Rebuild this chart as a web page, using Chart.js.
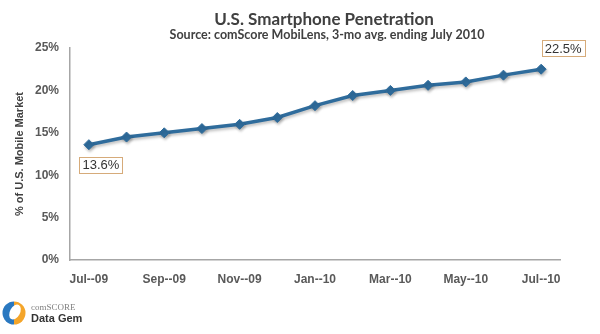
<!DOCTYPE html>
<html>
<head>
<meta charset="utf-8">
<script src="https://cdn.jsdelivr.net/npm/chart.js@4.4.0/dist/chart.umd.min.js"></script>
<style>
  html, body { margin: 0; padding: 0; background: #fff; }
  #wrap { width: 600px; height: 334px; }
</style>
</head>
<body>
<div id="wrap"><canvas id="penetration-chart" width="600" height="334"></canvas></div>
<script>
const months = ['Jul--09', 'Aug--09', 'Sep--09', 'Oct--09', 'Nov--09', 'Dec--09', 'Jan--10',
  'Feb--10', 'Mar--10', 'Apr--10', 'May--10', 'Jun--10', 'Jul--10'];
const penetration = [13.6, 14.5, 15.0, 15.5, 16.0, 16.8, 18.2, 19.4, 20.0, 20.6, 21.0, 21.8, 22.5];
const yTicks = [0, 5, 10, 15, 20, 25];
const chartTitle = 'U.S. Smartphone Penetration';
const chartSubtitle = 'Source: comScore MobiLens, 3-mo avg. ending July 2010';
const yTitle = '% of U.S. Mobile Market';

const lineColor = '#2f6c9c';
const labelBorder = '#d6ab7a';

// title, subtitle and the comScore logo drawn straight on the canvas
const headerPlugin = {
  id: 'header',
  afterDraw(chart) {
    const { ctx } = chart;
    ctx.save();
    ctx.fillStyle = '#404040';
    ctx.textAlign = 'center';
    ctx.textBaseline = 'alphabetic';
    ctx.font = 'bold 17px Lato';
    ctx.fillText(chartTitle, 324, 25);
    ctx.font = 'bold 12.5px Lato';
    ctx.fillText(chartSubtitle, 327, 39);

    // logo
    ctx.translate(14, 313);
    ctx.beginPath();
    ctx.ellipse(0, 0, 11.5, 11.5, 0, Math.PI * 0.5, Math.PI * 1.5);
    ctx.fillStyle = '#2a78c0';
    ctx.fill();
    ctx.beginPath();
    ctx.ellipse(0, 0, 11.5, 11.5, 0, -Math.PI * 0.5, Math.PI * 0.5);
    ctx.fillStyle = '#f4a52a';
    ctx.fill();
    ctx.beginPath();
    ctx.ellipse(1, -1, 5, 8, 0.5, 0, Math.PI * 2);
    ctx.fillStyle = '#ffffff';
    ctx.fill();
    ctx.setTransform(1, 0, 0, 1, 0, 0);
    ctx.textAlign = 'left';
    ctx.fillStyle = '#808080';
    ctx.font = '9px "Liberation Serif"';
    ctx.fillText('comSCORE', 31, 310);
    ctx.fillStyle = '#333333';
    ctx.font = 'bold 11px "Liberation Sans"';
    ctx.fillText('Data Gem', 31, 322);
    ctx.restore();
  }
};

// boxed value labels on the first and last points
const endLabelPlugin = {
  id: 'endLabels',
  afterDatasetsDraw(chart) {
    const { ctx } = chart;
    const meta = chart.getDatasetMeta(0);
    const last = penetration.length - 1;
    const spots = [
      { idx: 0, dx: 12, dy: 20 },
      { idx: last, dx: 22, dy: -21 }
    ];
    ctx.save();
    ctx.font = '13px "Liberation Sans"';
    ctx.textAlign = 'center';
    ctx.textBaseline = 'middle';
    spots.forEach(({ idx, dx, dy }) => {
      const pt = meta.data[idx];
      const text = `${penetration[idx].toFixed(1)}%`;
      const w = ctx.measureText(text).width + 6;
      const h = 16;
      const cx = pt.x + dx;
      const cy = pt.y + dy;
      ctx.fillStyle = '#fff';
      ctx.fillRect(cx - w / 2, cy - h / 2, w, h);
      ctx.strokeStyle = labelBorder;
      ctx.lineWidth = 1;
      ctx.strokeRect(Math.round(cx - w / 2) + 0.5, Math.round(cy - h / 2) + 0.5, Math.round(w), h);
      ctx.fillStyle = '#333333';
      ctx.fillText(text, cx, cy + 1);
    });
    ctx.restore();
  }
};

const lineShadowPlugin = {
  id: 'lineShadow',
  beforeDatasetsDraw(chart) {
    const { ctx } = chart;
    ctx.save();
    ctx.shadowColor = 'rgba(0, 0, 0, 0.25)';
    ctx.shadowBlur = 3;
    ctx.shadowOffsetX = 1;
    ctx.shadowOffsetY = 2;
  },
  afterDatasetsDraw(chart) {
    chart.ctx.restore();
  }
};

const data = {
  labels: months,
  datasets: [
    {
      label: 'Smartphone Penetration',
      data: penetration,
      borderColor: lineColor,
      backgroundColor: lineColor,
      borderWidth: 3.5,
      pointStyle: 'rectRot',
      pointRadius: 5,
      pointBackgroundColor: lineColor,
      pointBorderColor: lineColor,
      pointBorderWidth: 1,
      tension: 0
    }
  ]
};

const config = {
  type: 'line',
  data,
  options: {
    responsive: false,
    animation: false,
    layout: { padding: { top: 48, right: 40, bottom: 0, left: 0 } },
    plugins: {
      legend: { display: false },
      title: { display: false },
      tooltip: { enabled: false }
    },
    scales: {
      x: {
        offset: true,
        grid: { display: false, drawTicks: false },
        border: { display: true, color: '#a6a6a6', width: 1.5 },
        ticks: {
          autoSkip: false,
          maxRotation: 0,
          padding: 12,
          color: '#595959',
          font: { family: 'Liberation Sans', size: 12, weight: 'bold' },
          callback: (value, index) => (index % 2 === 0 ? months[index] : '')
        },
        afterFit: (scale) => { scale.height = 74; }
      },
      y: {
        min: 0,
        max: 25,
        grid: { display: false, drawTicks: false },
        border: { display: true, color: '#a6a6a6', width: 1.5 },
        afterBuildTicks: (scale) => { scale.ticks = yTicks.map((v) => ({ value: v })); },
        ticks: {
          padding: 11,
          color: '#595959',
          font: { family: 'Liberation Sans', size: 12, weight: 'bold' },
          callback: (value) => `${value}%`
        },
        title: {
          display: true,
          text: yTitle,
          color: '#404040',
          padding: { top: 13, bottom: 0 },
          font: { family: 'Liberation Sans', size: 11, weight: 'bold' }
        },
        afterFit: (scale) => { scale.width = 70; }
      }
    }
  },
  plugins: [lineShadowPlugin, endLabelPlugin, headerPlugin]
};

new Chart(document.getElementById('penetration-chart'), config);
</script>
</body>
</html>
